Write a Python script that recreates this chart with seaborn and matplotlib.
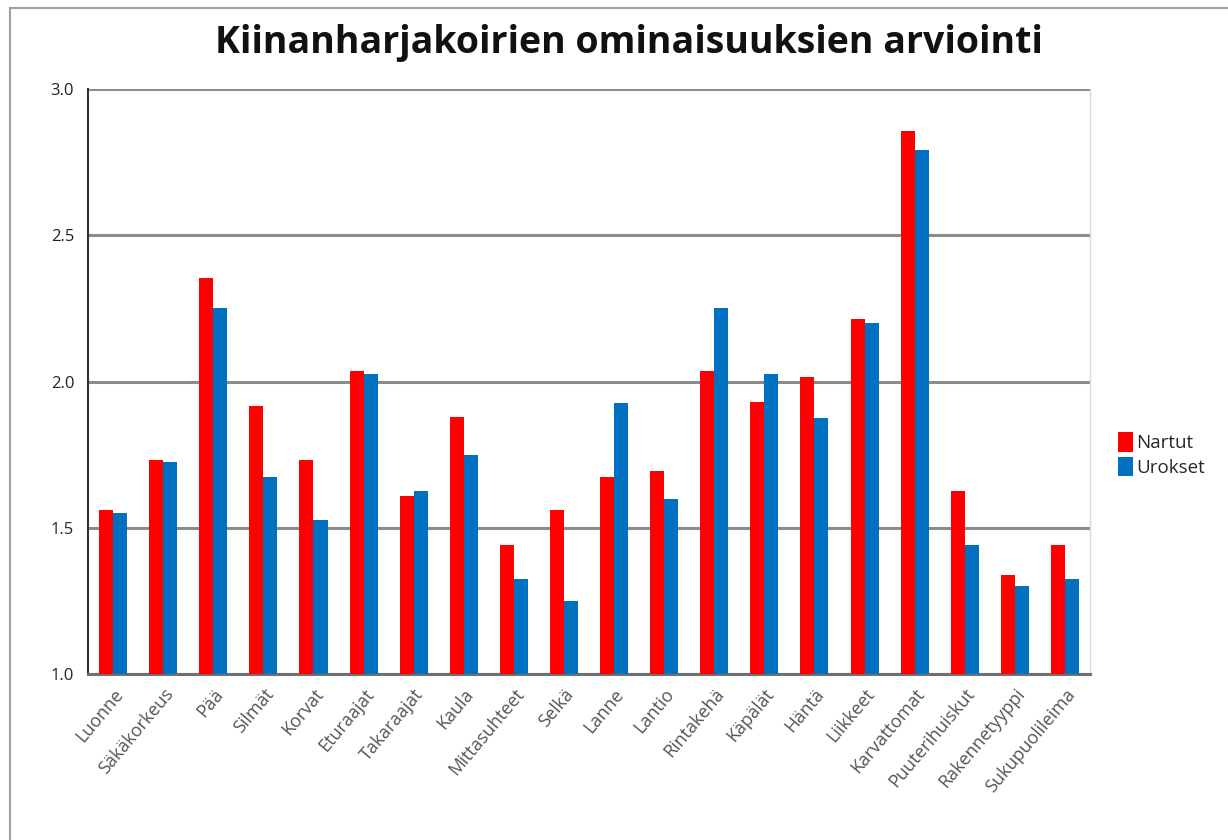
import pandas as pd
import matplotlib.pyplot as plt
import seaborn as sns
from matplotlib.patches import Rectangle

categories = ["Luonne", "Säkäkorkeus", "Pää", "Silmät", "Korvat", "Eturaajat",
              "Takaraajat", "Kaula", "Mittasuhteet", "Selkä", "Lanne", "Lantio",
              "Rintakehä", "Käpälät", "Häntä", "Liikkeet", "Karvattomat",
              "Puuterihuiskut", "Rakennetyyppi", "Sukupuolileima"]
nartut = [1.56, 1.73, 2.355, 1.915, 1.73, 2.035, 1.61, 1.88, 1.44, 1.56, 1.675,
          1.695, 2.035, 1.93, 2.015, 2.215, 2.855, 1.625, 1.34, 1.44]
urokset = [1.55, 1.725, 2.25, 1.675, 1.525, 2.025, 1.625, 1.75, 1.325, 1.25, 1.925,
           1.60, 2.25, 2.025, 1.875, 2.20, 2.79, 1.44, 1.30, 1.325]
series_names = ["Nartut", "Urokset"]
colors = ["#FF0000", "#0070C0"]

df = pd.DataFrame({
    "Ominaisuus": categories * 2,
    "Sarja": [series_names[0]] * len(categories) + [series_names[1]] * len(categories),
    "Arvo": nartut + urokset,
})

sns.set_theme(style="white")
plt.rcParams['font.family'] = ['Open Sans', 'DejaVu Sans']

fig = plt.figure(figsize=(12.28, 8.4), dpi=100)
ax = fig.add_axes([0.0717, 0.1976, 0.8159, 0.6964])

# frame around the whole chart
fig.patches.append(Rectangle((0.008, -0.01), 1.02, 1.0, transform=fig.transFigure,
                             fill=False, edgecolor="#a0a0a0", linewidth=1.5))

sns.barplot(data=df, x="Ominaisuus", y="Arvo", hue="Sarja", palette=colors,
            width=0.56, gap=0, saturation=1, linewidth=0, ax=ax, zorder=3)

ax.set_ylim(1.0, 3.0)
ax.set_yticks([1.0, 1.5, 2.0, 2.5, 3.0])
ax.set_yticklabels(["1.0", "1.5", "2.0", "2.5", "3.0"], fontsize=12, color="#222222")
ax.set_xlim(-0.5, len(categories) - 0.5)
ax.yaxis.grid(True, color="#8c8c8c", linewidth=2.2, zorder=0)
ax.set_axisbelow(True)
ax.set_xlabel("")
ax.set_ylabel("")

ax.spines["top"].set_visible(False)
ax.spines["right"].set_color("#d8d8d8")
ax.spines["right"].set_linewidth(1)
ax.spines["left"].set_color("#333333")
ax.spines["left"].set_linewidth(1.5)
ax.spines["bottom"].set_color("#707070")
ax.spines["bottom"].set_linewidth(2.2)

ax.set_xticks(range(len(categories)))
ax.set_xticklabels(categories, rotation=50, ha="right", rotation_mode="anchor",
                   fontsize=13, color="#555555")
ax.tick_params(axis="x", length=0, pad=8)
ax.tick_params(axis="y", length=0, pad=10)

ax.set_title("Kiinanharjakoirien ominaisuuksien arviointi", fontsize=27,
             fontweight="bold", color="#111111", pad=26, x=0.54)

ax.legend(loc="center left", bbox_to_anchor=(1.02, 0.375), frameon=False,
          fontsize=13.5, handlelength=0.85, handleheight=1.2, handletextpad=0.15,
          labelspacing=0.25, borderaxespad=0)

fig.savefig("out.png", dpi=100)
